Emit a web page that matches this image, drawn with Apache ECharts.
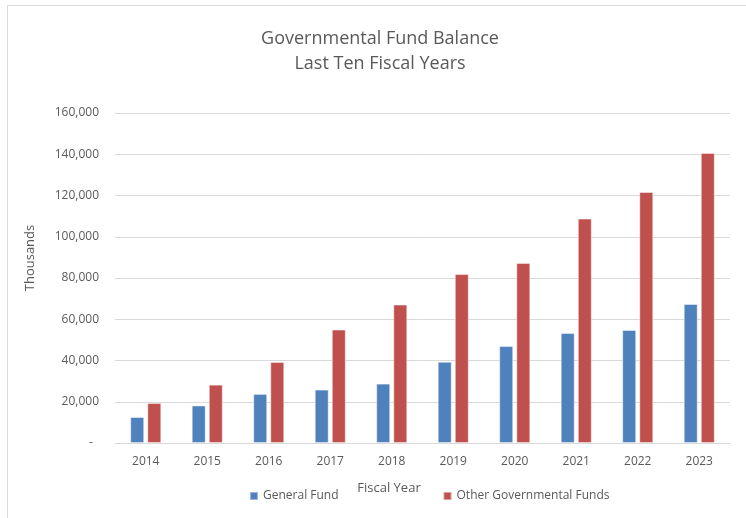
<!DOCTYPE html>
<html>
<head>
<meta charset="utf-8">
<style>
  html, body { margin: 0; padding: 0; background: #ffffff; }
  #chart { width: 746px; height: 518px; }
</style>
<script src="https://cdn.jsdelivr.net/npm/echarts@6/dist/echarts.min.js"></script>
</head>
<body>
<div id="chart"></div>
<script>
// Fiscal years on the category axis
const years = ['2014', '2015', '2016', '2017', '2018', '2019', '2020', '2021', '2022', '2023'];
// Fund balances, in thousands of dollars
const generalFund = [12600, 18200, 23800, 25900, 28800, 39400, 47000, 53300, 54800, 67400];
const otherGovFunds = [19400, 28300, 39300, 55000, 67100, 81900, 87300, 108800, 121700, 140600];
// Value axis range
const yMin = 0, yMax = 160000, yStep = 20000;

const FONT = '"Open Sans", "Liberation Sans", sans-serif';
const TXT = '#595959';
const LINE = '#d9d9d9';

const chart = echarts.init(document.getElementById('chart'), null, { renderer: 'canvas' });

chart.setOption({
  animation: false,
  backgroundColor: '#ffffff',
  title: {
    text: 'Governmental Fund Balance\nLast Ten Fiscal Years',
    left: 375,
    textAlign: 'center',
    top: 21,
    textStyle: { fontFamily: FONT, fontSize: 18, fontWeight: 'normal', color: TXT, lineHeight: 25 }
  },
  legend: {
    left: 244,
    top: 485,
    itemWidth: 8,
    itemHeight: 8,
    itemGap: 104,
    icon: 'rect',
    textStyle: { fontFamily: FONT, fontSize: 12, color: TXT },
    data: ['General Fund', 'Other Governmental Funds']
  },
  graphic: [{
    type: 'rect',
    silent: true,
    shape: { x: 7.5, y: 5.5, width: 800, height: 600 },
    style: { fill: 'none', stroke: LINE, lineWidth: 1 }
  }],
  grid: { left: 115, right: 16, top: 113, bottom: 75, containLabel: false },
  xAxis: {
    type: 'category',
    data: years,
    name: 'Fiscal Year',
    nameLocation: 'middle',
    nameGap: 39,
    nameTextStyle: { fontFamily: FONT, fontSize: 13, color: TXT, padding: [0, 67, 0, 0] },
    axisLine: { show: true, lineStyle: { color: LINE, width: 1 } },
    axisTick: { show: false },
    axisLabel: { fontFamily: FONT, fontSize: 12, color: TXT, margin: 13 }
  },
  yAxis: {
    type: 'value',
    min: yMin,
    max: yMax,
    interval: yStep,
    name: 'Thousands',
    nameLocation: 'middle',
    nameGap: 78,
    nameTextStyle: { fontFamily: FONT, fontSize: 13, color: TXT, padding: [0, 0, 0, 40] },
    axisLine: { show: false },
    axisTick: { show: false },
    splitLine: { lineStyle: { color: LINE, width: 1 } },
    axisLabel: {
      fontFamily: FONT, fontSize: 12, color: TXT, margin: 16,
      formatter: v => v === 0 ? '-  ' : v.toLocaleString('en-US')
    }
  },
  series: [
    {
      name: 'General Fund',
      type: 'bar',
      data: generalFund,
      barWidth: 14,
      barGap: '22%',
      itemStyle: { color: '#4f81bd', borderColor: 'rgba(255,255,255,0.45)', borderWidth: 1 }
    },
    {
      name: 'Other Governmental Funds',
      type: 'bar',
      data: otherGovFunds,
      barWidth: 14,
      barGap: '22%',
      itemStyle: { color: '#c0504d', borderColor: 'rgba(255,255,255,0.45)', borderWidth: 1 }
    }
  ]
});
</script>
</body>
</html>
